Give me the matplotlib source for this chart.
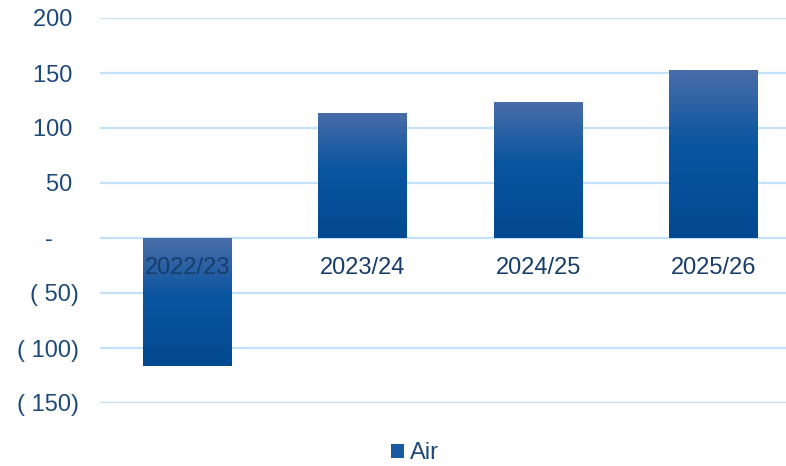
import numpy as np
import matplotlib.pyplot as plt
from matplotlib.colors import LinearSegmentedColormap
from matplotlib.patches import Patch

plt.rcParams['font.family'] = ['Liberation Sans', 'DejaVu Sans']

# Données
categories = ["2022/23", "2023/24", "2024/25", "2025/26"]
air = [-116, 114, 124, 153]
yticks = [-150, -100, -50, 0, 50, 100, 150, 200]
ytick_labels = ["( 150)", "( 100)", "( 50)", "-    ", "50 ", "100 ", "150 ", "200 "]

text_color = "#1D4A78"
grid_color = "#C3E2FA"
grad = LinearSegmentedColormap.from_list(
    "air", [(0.0, "#4A6DA8"), (0.45, "#0A55A0"), (1.0, "#034991")])

fig = plt.figure(figsize=(7.86, 4.66), dpi=100)
ax = fig.add_axes([100 / 786, 63 / 466, 701 / 786, 385 / 466])

x = np.arange(len(categories))
bars = ax.bar(x, air, width=0.507, color="none", zorder=3)

# Dégradé vertical dans chaque barre
g = np.linspace(0, 1, 256).reshape(-1, 1)
for b in bars:
    x0, y0 = b.get_x(), b.get_y()
    w, h = b.get_width(), b.get_height()
    top, bottom = max(y0, y0 + h), min(y0, y0 + h)
    im = ax.imshow(g, cmap=grad, aspect="auto", extent=[x0, x0 + w, bottom, top],
                   origin="upper", zorder=3)
    im.set_clip_path(b)
ax.set_xlim(-0.5, 3.5)
ax.set_ylim(-150, 200)

# Grille
for t in yticks:
    ax.axhline(t, color=grid_color, lw=1.6, zorder=1)

ax.set_yticks(yticks)
ax.set_yticklabels(ytick_labels)
ax.tick_params(axis="y", length=0, pad=15, labelsize=17, labelcolor=text_color)
ax.set_xticks([])
for s in ax.spines.values():
    s.set_visible(False)

# Étiquettes des catégories sur la ligne zéro
for xi, c in zip(x, categories):
    ax.text(xi, -27, c, ha="center", va="center", fontsize=17,
            color="#173D6A", zorder=4)

fig.legend(handles=[Patch(facecolor="#1A5AA0", label="Air")],
           loc="center", bbox_to_anchor=(415 / 786, 13 / 466), frameon=False,
           fontsize=17, handlelength=0.55, handleheight=0.55, handletextpad=0.25,
           labelcolor=text_color)

fig.savefig("out.png", dpi=100)
